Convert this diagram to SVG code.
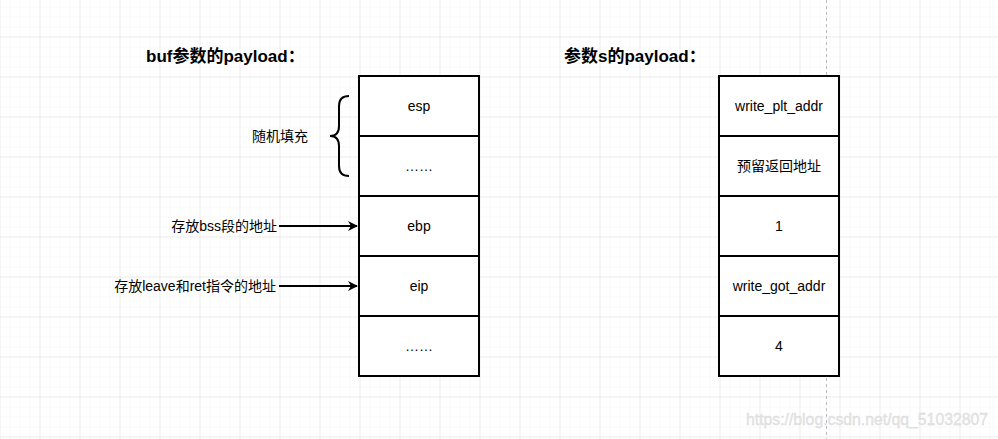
<svg xmlns="http://www.w3.org/2000/svg" width="998" height="439" viewBox="0 0 998 439">
  <defs>
    <pattern id="minor" x="9.5" y="6.5" width="10" height="10" patternUnits="userSpaceOnUse">
      <path d="M0,0 V10 M0,0 H10" stroke="#f3f3f3" stroke-width="1" fill="none"/>
    </pattern>
    <pattern id="major" x="39.5" y="36.5" width="40" height="40" patternUnits="userSpaceOnUse">
      <path d="M0,0 V40 M0,0 H40" stroke="#e0e0e0" stroke-width="1" fill="none"/>
    </pattern>
    <marker id="arrow" viewBox="0 0 10 10" refX="9" refY="5" markerWidth="5" markerHeight="5" orient="auto" markerUnits="strokeWidth">
      <path d="M0,0 L10,5 L0,10 L3,5 Z" fill="#000"/>
    </marker>
  </defs>
  <style>
    .cell { fill: #fff; stroke: #000; stroke-width: 2; }
    .t { font-family: "Liberation Sans", "Noto Sans CJK SC", sans-serif; font-size: 14px; fill: #000; }
    .c { text-anchor: middle; }
    .e { text-anchor: end; }
    .title { font-family: "Liberation Sans", "Noto Sans CJK SC", sans-serif; font-size: 17px; font-weight: bold; fill: #000; }
    .conn { stroke: #000; stroke-width: 2; fill: none; }
  </style>
  <rect width="998" height="439" fill="#fff"/>
  <rect width="998" height="439" fill="url(#minor)"/>
  <rect width="998" height="439" fill="url(#major)"/>
  <line x1="826.5" y1="0" x2="826.5" y2="439" stroke="#bbb" stroke-width="1" stroke-dasharray="3,3"/>

  <text class="title" x="146" y="62">buf参数的payload：</text>
  <text class="title" x="564" y="62">参数s的payload：</text>

  <g id="left-stack">
    <g id="l-esp"><rect class="cell" x="359" y="76" width="120" height="60"/><text class="t c" x="419" y="111">esp</text></g>
    <g id="l-fill"><rect class="cell" x="359" y="136" width="120" height="60"/><text class="t c" x="419" y="171">……</text></g>
    <g id="l-ebp"><rect class="cell" x="359" y="196" width="120" height="60"/><text class="t c" x="419" y="231">ebp</text></g>
    <g id="l-eip"><rect class="cell" x="359" y="256" width="120" height="60"/><text class="t c" x="419" y="291">eip</text></g>
    <g id="l-more"><rect class="cell" x="359" y="316" width="120" height="60"/><text class="t c" x="419" y="351">……</text></g>
  </g>

  <g id="right-stack">
    <g id="r-plt"><rect class="cell" x="719" y="76" width="120" height="60"/><text class="t c" x="779" y="111">write_plt_addr</text></g>
    <g id="r-ret"><rect class="cell" x="719" y="136" width="120" height="60"/><text class="t c" x="779" y="171">预留返回地址</text></g>
    <g id="r-1"><rect class="cell" x="719" y="196" width="120" height="60"/><text class="t c" x="779" y="231">1</text></g>
    <g id="r-got"><rect class="cell" x="719" y="256" width="120" height="60"/><text class="t c" x="779" y="291">write_got_addr</text></g>
    <g id="r-4"><rect class="cell" x="719" y="316" width="120" height="60"/><text class="t c" x="779" y="351">4</text></g>
  </g>

  <g id="brace-label">
    <path class="conn" d="M349,96 Q339,96 339,106 L339,126 Q339,136 330,136 Q339,136 339,146 L339,166 Q339,176 349,176"/>
    <text class="t" x="252" y="141">随机填充</text>
  </g>

  <g id="label-bss"><text class="t e" x="277" y="231">存放bss段的地址</text></g>
  <g id="label-leave"><text class="t e" x="276" y="291">存放leave和ret指令的地址</text></g>

  <g id="connectors">
    <line class="conn" x1="279" y1="226" x2="357" y2="226" marker-end="url(#arrow)"/>
    <line class="conn" x1="279" y1="286" x2="357" y2="286" marker-end="url(#arrow)"/>
  </g>

  <text x="746" y="425" font-family="Liberation Sans, sans-serif" font-size="16" fill="#e4e4e4" stroke="#d8d8d8" stroke-width="0.3" textLength="242" lengthAdjust="spacingAndGlyphs">https://blog.csdn.net/qq_51032807</text>
</svg>
